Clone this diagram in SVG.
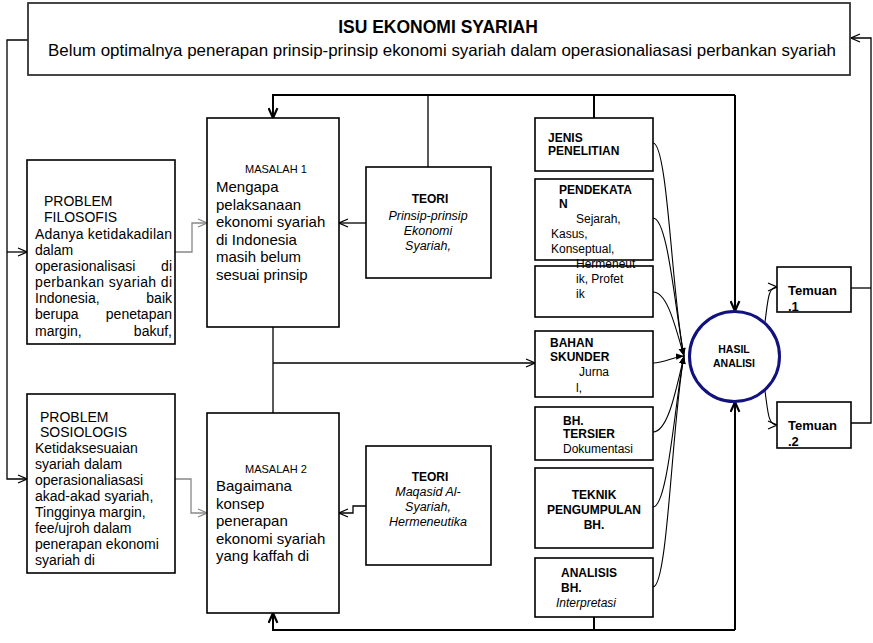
<svg xmlns="http://www.w3.org/2000/svg" width="873" height="643" viewBox="0 0 873 643">
<defs>
<style>
.bx{fill:#fff;stroke:#000;stroke-width:1.6}
.t{font-family:"Liberation Sans",Arial,sans-serif;fill:#000}
.b{font-weight:bold}
.i{font-style:italic}
.ln{fill:none;stroke:#000;stroke-width:1.3}
.lt{fill:none;stroke:#000;stroke-width:2}
.gr{fill:none;stroke:#888;stroke-width:1.3}
.cv{fill:none;stroke:#000;stroke-width:1.1}
</style>
<marker id="oa" viewBox="0 0 10 10" refX="10" refY="5" markerWidth="10" markerHeight="10" markerUnits="userSpaceOnUse" orient="auto"><path d="M1,1 L10,5 L1,9" fill="none" stroke="#000" stroke-width="1.3"/></marker>
<marker id="og" viewBox="0 0 10 10" refX="10" refY="5" markerWidth="10" markerHeight="10" markerUnits="userSpaceOnUse" orient="auto"><path d="M1,1 L10,5 L1,9" fill="none" stroke="#888" stroke-width="1.3"/></marker>
<marker id="ot" viewBox="0 0 10 10" refX="10" refY="5" markerWidth="11" markerHeight="11" markerUnits="userSpaceOnUse" orient="auto"><path d="M1,1 L10,5 L1,9" fill="none" stroke="#000" stroke-width="2"/></marker>
<marker id="fa" viewBox="0 0 10 10" refX="10" refY="5" markerWidth="8" markerHeight="8" markerUnits="userSpaceOnUse" orient="auto"><path d="M0,1 L10,5 L0,9 Z" fill="#000"/></marker>
</defs>

<g id="connectors">
<polyline class="ln" points="28,40 7,40 7,479 27,479" marker-end="url(#oa)"/>
<polyline class="ln" points="7,252 27,252" marker-end="url(#oa)"/>
<polyline class="gr" points="175,252 192,252 192,223 207,223" marker-end="url(#og)"/>
<polyline class="gr" points="175,479 191,479 191,513 207,513" marker-end="url(#og)"/>
<polyline class="ln" points="366,223 339,223" marker-end="url(#oa)"/>
<polyline class="ln" points="366,506 353,506 353,513 339,513" marker-end="url(#oa)"/>
<polyline class="lt" points="735,95 273,95 273,118" marker-end="url(#ot)"/>
<line class="ln" x1="428" y1="95" x2="428" y2="167"/>
<line class="lt" x1="594" y1="95" x2="594" y2="118"/>
<polyline class="lt" points="735,95 735,311" marker-end="url(#ot)"/>
<polyline class="lt" points="594,617 594,630"/>
<polyline class="lt" points="735,630 273,630 273,613" marker-end="url(#ot)"/>
<polyline class="lt" points="735,630 735,402" marker-end="url(#ot)"/>
<line class="ln" x1="273" y1="327" x2="273" y2="413"/>
<polyline class="ln" points="273,363 535,363" marker-end="url(#oa)"/>
<path class="cv" d="M653,143 C668,143 672,300 684,356" marker-end="url(#fa)"/>
<path class="cv" d="M653,218 C668,218 675,310 684,356" marker-end="url(#fa)"/>
<path class="cv" d="M653,292 C668,292 676,330 684,356" marker-end="url(#fa)"/>
<path class="cv" d="M653,363 C665,363 672,357 684,356" marker-end="url(#fa)"/>
<path class="cv" d="M653,432 C668,432 676,390 684,356" marker-end="url(#fa)"/>
<path class="cv" d="M653,507 C668,507 675,400 684,356" marker-end="url(#fa)"/>
<path class="cv" d="M653,587 C668,587 672,420 684,356" marker-end="url(#fa)"/>
<path class="cv" stroke-width="0.9" d="M765,322 C768,300 768,287 777,287" marker-end="url(#oa)"/>
<path class="cv" stroke-width="0.9" d="M765,391 C768,412 768,425 777,425" marker-end="url(#oa)"/>
<polyline class="ln" points="851,288 871,288"/>
<polyline class="ln" points="851,423 871,423 871,38 851,38" marker-end="url(#oa)"/>
</g>

<g id="isu">
<rect class="bx" x="28" y="3" width="822" height="72" style="stroke:#333;stroke-width:1.8"/>
<text class="t b" x="438" y="33" font-size="17.5" text-anchor="middle">ISU EKONOMI SYARIAH</text>
<text class="t" x="48" y="56" font-size="16.5" textLength="788" lengthAdjust="spacingAndGlyphs">Belum optimalnya penerapan prinsip-prinsip ekonomi syariah dalam operasionaliasasi perbankan syariah</text>
</g>

<g id="problem-filosofis">
<rect class="bx" x="27" y="160" width="148" height="184"/>
<text class="t" font-size="14" x="44" y="206">PROBLEM</text>
<text class="t" font-size="14" x="44" y="222">FILOSOFIS</text>
<text class="t" font-size="14" x="35" y="239" textLength="137" lengthAdjust="spacing">Adanya ketidakadilan</text>
<text class="t" font-size="14" x="35" y="255">dalam</text>
<text class="t" font-size="14" x="35" y="271">operasionalisasi</text>
<text class="t" font-size="14" x="172" y="271" text-anchor="end">di</text>
<text class="t" font-size="14" x="35" y="287" textLength="137" lengthAdjust="spacing">perbankan syariah di</text>
<text class="t" font-size="14" x="35" y="303">Indonesia,</text>
<text class="t" font-size="14" x="172" y="303" text-anchor="end">baik</text>
<text class="t" font-size="14" x="35" y="319">berupa</text>
<text class="t" font-size="14" x="172" y="319" text-anchor="end">penetapan</text>
<text class="t" font-size="14" x="35" y="336">margin,</text>
<text class="t" font-size="14" x="172" y="336" text-anchor="end">bakuf,</text>
</g>

<g id="problem-sosiologis">
<rect class="bx" x="27" y="394" width="148" height="179"/>
<text class="t" font-size="14" x="40" y="422">PROBLEM</text>
<text class="t" font-size="14" x="40" y="437">SOSIOLOGIS</text>
<text class="t" font-size="14" x="35" y="453">Ketidaksesuaian</text>
<text class="t" font-size="14" x="35" y="469">syariah dalam</text>
<text class="t" font-size="14" x="35" y="485">operasionaliasasi</text>
<text class="t" font-size="14" x="35" y="501">akad-akad syariah,</text>
<text class="t" font-size="14" x="35" y="517">Tingginya margin,</text>
<text class="t" font-size="14" x="35" y="533">fee/ujroh dalam</text>
<text class="t" font-size="14" x="35" y="549">penerapan ekonomi</text>
<text class="t" font-size="14" x="35" y="565">syariah di</text>
</g>

<g id="masalah-1">
<rect class="bx" x="207" y="118" width="132" height="209"/>
<text class="t" font-size="11" x="245" y="173">MASALAH 1</text>
<text class="t" font-size="15" x="216" y="192">Mengapa</text>
<text class="t" font-size="15" x="216" y="209.5">pelaksanaan</text>
<text class="t" font-size="15" x="216" y="227">ekonomi syariah</text>
<text class="t" font-size="15" x="216" y="244.5">di Indonesia</text>
<text class="t" font-size="15" x="216" y="262">masih belum</text>
<text class="t" font-size="15" x="216" y="279.5">sesuai prinsip</text>
</g>

<g id="teori-1">
<rect class="bx" x="366" y="167" width="125" height="111"/>
<text class="t b" font-size="12" x="430" y="203" text-anchor="middle">TEORI</text>
<text class="t i" font-size="12.5" x="428" y="220" text-anchor="middle">Prinsip-prinsip</text>
<text class="t i" font-size="12.5" x="428" y="235" text-anchor="middle">Ekonomi</text>
<text class="t i" font-size="12.5" x="428" y="250" text-anchor="middle">Syariah,</text>
</g>

<g id="masalah-2">
<rect class="bx" x="207" y="413" width="132" height="200"/>
<text class="t" font-size="11" x="245" y="473">MASALAH 2</text>
<text class="t" font-size="15" x="216" y="491">Bagaimana</text>
<text class="t" font-size="15" x="216" y="508.5">konsep</text>
<text class="t" font-size="15" x="216" y="526">penerapan</text>
<text class="t" font-size="15" x="216" y="543.5">ekonomi syariah</text>
<text class="t" font-size="15" x="216" y="561">yang kaffah di</text>
</g>

<g id="teori-2">
<rect class="bx" x="366" y="446" width="125" height="119"/>
<text class="t b" font-size="12" x="430" y="481" text-anchor="middle">TEORI</text>
<text class="t i" font-size="12.5" x="428" y="496" text-anchor="middle">Maqasid Al-</text>
<text class="t i" font-size="12.5" x="428" y="511" text-anchor="middle">Syariah,</text>
<text class="t i" font-size="12.5" x="428" y="526" text-anchor="middle">Hermeneutika</text>
</g>

<g id="jenis-penelitian">
<rect class="bx" x="535" y="118" width="118" height="53"/>
<text class="t b" font-size="12" x="548" y="142">JENIS</text>
<text class="t b" font-size="12" x="548" y="155">PENELITIAN</text>
</g>

<g id="pendekatan">
<rect class="bx" x="535" y="179" width="118" height="81"/>
<text class="t b" font-size="12" x="559" y="194">PENDEKATA</text>
<text class="t b" font-size="12" x="559" y="208">N</text>
<text class="t" font-size="12" x="576" y="223">Sejarah,</text>
<text class="t" font-size="12" x="551" y="238">Kasus,</text>
<text class="t" font-size="12" x="551" y="253">Konseptual,</text>
</g>

<g id="pendekatan-lanjutan">
<rect class="bx" x="535" y="266" width="118" height="51"/>
<text class="t" font-size="12" x="576" y="268">Hermeneut</text>
<text class="t" font-size="12" x="576" y="283">ik, Profet</text>
<text class="t" font-size="12" x="576" y="298">ik</text>
</g>

<g id="bahan-skunder">
<rect class="bx" x="535" y="331" width="118" height="66"/>
<text class="t b" font-size="12" x="550" y="347">BAHAN</text>
<text class="t b" font-size="12" x="550" y="361">SKUNDER</text>
<text class="t" font-size="12" x="579" y="376">Jurna</text>
<text class="t" font-size="12" x="576" y="392">l,</text>
</g>

<g id="bh-tersier">
<rect class="bx" x="535" y="407" width="118" height="53"/>
<text class="t b" font-size="12" x="563" y="425">BH.</text>
<text class="t b" font-size="12" x="563" y="438">TERSIER</text>
<text class="t" font-size="12" x="563" y="453">Dokumentasi</text>
</g>

<g id="teknik-pengumpulan">
<rect class="bx" x="535" y="468" width="118" height="80"/>
<text class="t b" font-size="12" x="594" y="499" text-anchor="middle">TEKNIK</text>
<text class="t b" font-size="12" x="594" y="514" text-anchor="middle">PENGUMPULAN</text>
<text class="t b" font-size="12" x="594" y="529" text-anchor="middle">BH.</text>
</g>

<g id="analisis-bh">
<rect class="bx" x="535" y="558" width="118" height="59"/>
<text class="t b" font-size="12" x="561" y="577">ANALISIS</text>
<text class="t b" font-size="12" x="561" y="592">BH.</text>
<text class="t i" font-size="12" x="556" y="607">Interpretasi</text>
</g>

<g id="hasil-analisi">
<circle cx="734.5" cy="356.5" r="45" fill="#fff" stroke="#12127e" stroke-width="3"/>
<text class="t b" font-size="10.5" x="734" y="353" text-anchor="middle">HASIL</text>
<text class="t b" font-size="10.5" x="734" y="367" text-anchor="middle">ANALISI</text>
</g>

<g id="temuan-1">
<rect class="bx" x="777" y="267" width="74" height="45"/>
<text class="t b" font-size="13" x="788" y="295">Temuan</text>
<text class="t b" font-size="13" x="788" y="311">.1</text>
</g>

<g id="temuan-2">
<rect class="bx" x="777" y="402" width="74" height="46"/>
<text class="t b" font-size="13" x="788" y="430">Temuan</text>
<text class="t b" font-size="13" x="788" y="446">.2</text>
</g>
</svg>
